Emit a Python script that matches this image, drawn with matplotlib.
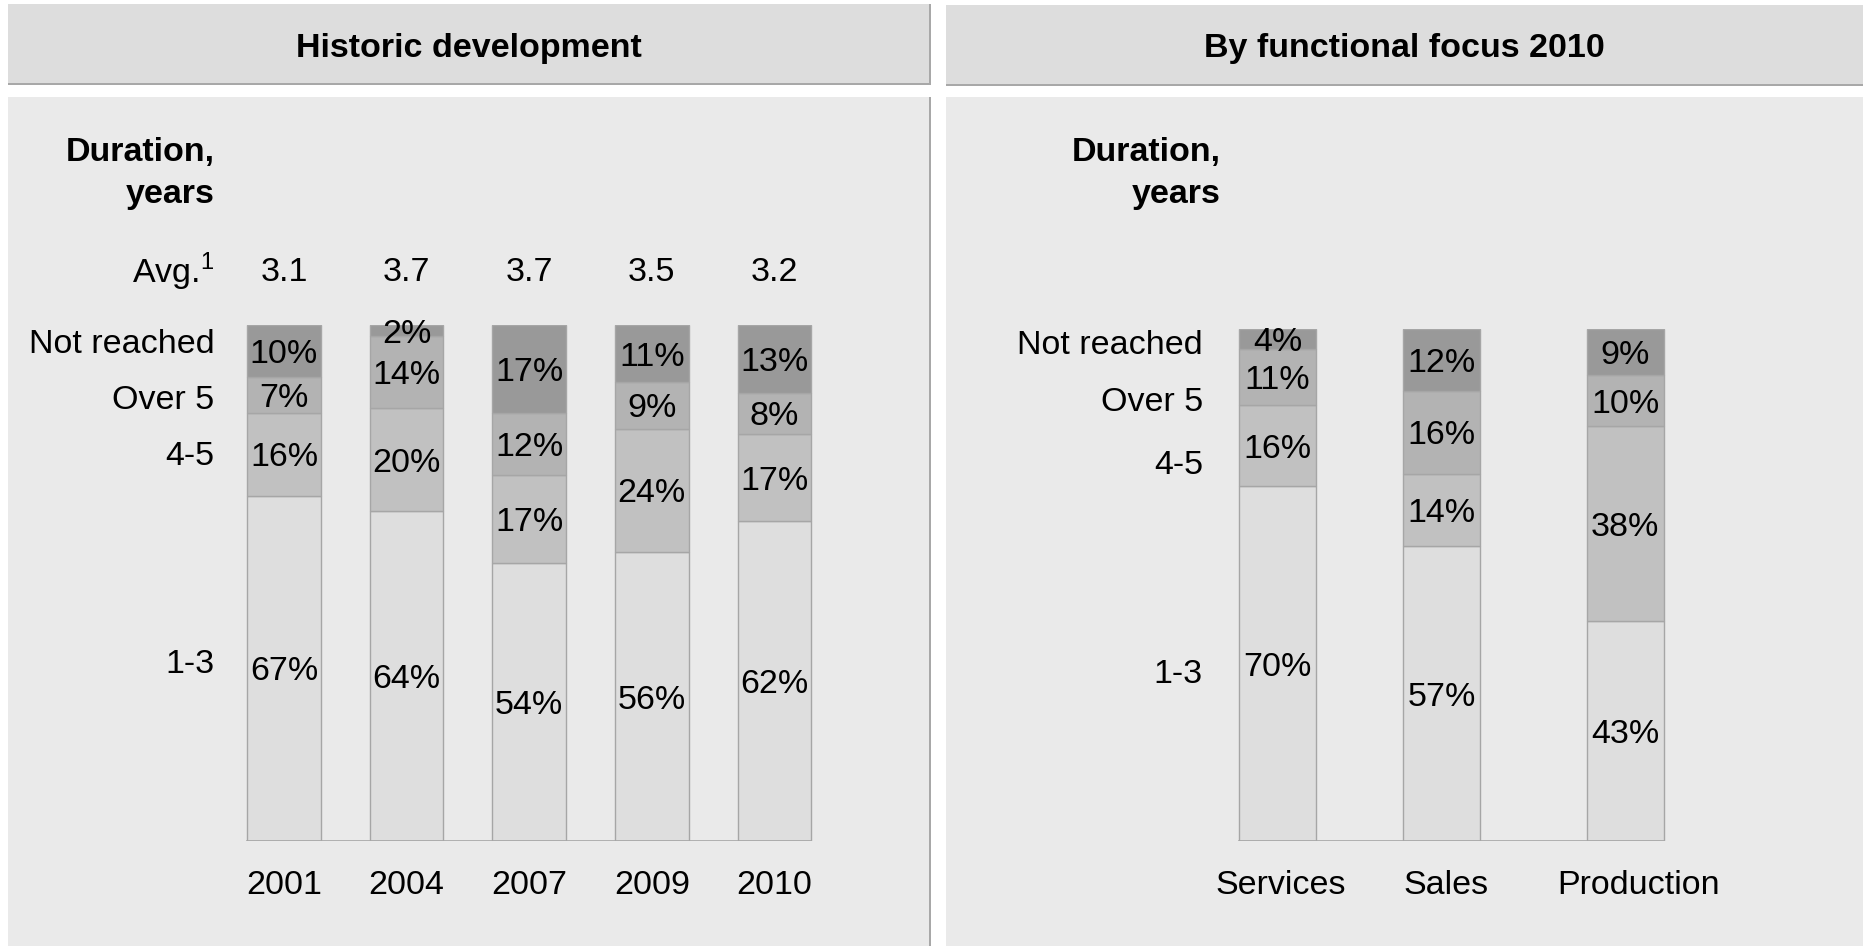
import numpy as np
import matplotlib
matplotlib.use('Agg')
import matplotlib.pyplot as plt
from matplotlib.patches import Rectangle

plt.rcParams['font.family'] = ['Liberation Sans', 'DejaVu Sans']
plt.rcParams['mathtext.fontset'] = 'custom'
plt.rcParams['mathtext.rm'] = 'Liberation Sans'

# data
years = ['2001', '2004', '2007', '2009', '2010']
avg_years = ['3.1', '3.7', '3.7', '3.5', '3.2']
hist_13 = [67, 64, 54, 56, 62]
hist_45 = [16, 20, 17, 24, 17]
hist_over5 = [7, 14, 12, 9, 8]
hist_notreached = [10, 2, 17, 11, 13]

functions = ['Services', 'Sales', 'Production']
func_13 = [70, 57, 43]
func_45 = [16, 14, 38]
func_over5 = [11, 16, 10]
func_notreached = [4, 12, 9]

row_names = ['Not reached', 'Over 5', '4-5', '1-3']
seg_colors = ['#dedede', '#c1c1c1', '#b3b3b3', '#999999']  # 1-3, 4-5, over 5, not reached
FS = 24.5
VA = 'center_baseline'

W, H = 1863, 946
fig = plt.figure(figsize=(W / 100, H / 100), dpi=100)
fig.patch.set_facecolor('white')


def px_rect(x, y_top, w, h, color):
    # rectangle in figure pixels, y measured from top
    r = Rectangle((x / W, (H - y_top - h) / H), w / W, h / H, transform=fig.transFigure,
                  facecolor=color, edgecolor='none', zorder=-10)
    fig.patches.append(r)


# panel backgrounds
px_rect(8, 4, 922, 80, '#dddddd')
px_rect(8, 83, 923, 2, '#a8a8a8')
px_rect(929, 4, 2, 80, '#a8a8a8')
px_rect(8, 97, 922, 849, '#eaeaea')
px_rect(929, 97, 2, 849, '#a8a8a8')
px_rect(946, 5, 917, 80, '#dddddd')
px_rect(946, 84, 917, 2, '#a8a8a8')
px_rect(946, 97, 917, 849, '#eaeaea')

fig.text(469 / W, 1 - 49 / H, 'Historic development', ha='center', va='center',
         fontsize=FS, fontweight='bold')
fig.text(1404 / W, 1 - 49 / H, 'By functional focus 2010', ha='center', va='center',
         fontsize=FS, fontweight='bold')


def stacked(ax, xpos, width, segs):
    segs = np.array(segs, dtype=float)
    totals = segs.sum(axis=0)
    heights = segs / totals * 100
    bottom = np.zeros(len(xpos))
    for i in range(len(segs)):
        ax.bar(xpos, heights[i], width, bottom=bottom, color=seg_colors[i],
               edgecolor='#a6a6a6', linewidth=1.0, zorder=2)
        for j, x in enumerate(xpos):
            ax.text(x, bottom[j] + heights[i][j] / 2, f'{int(segs[i][j])}%', ha='center',
                    va=VA, fontsize=FS, zorder=3)
        bottom += heights[i]
    ax.plot([xpos[0] - width / 2, xpos[-1] + width / 2], [0, 0], color='#a6a6a6',
            linewidth=1.2, zorder=3)


def setup(ax, ticks, labels):
    ax.set_ylim(0, 100)
    ax.patch.set_visible(False)
    for s in ax.spines.values():
        s.set_visible(False)
    ax.set_yticks([])
    ax.set_xticks(ticks)
    ax.set_xticklabels(labels, fontsize=FS)
    ax.tick_params(axis='x', length=0, pad=21)


# left chart
ax1 = fig.add_axes([8 / W, (H - 841) / H, 922 / W, 515.5 / H])
xl = np.arange(len(years))
ax1.set_xlim((8 - 284) / 122.6, (930 - 284) / 122.6)
stacked(ax1, xl, 0.6, [hist_13, hist_45, hist_over5, hist_notreached])
setup(ax1, xl, years)
lx = -0.565
for name, y in zip(row_names, [97.0, 86.1, 75.3, 35.0]):
    ax1.text(lx, y, name, ha='right', va=VA, fontsize=FS)
ax1.text(lx, 129.5, 'Duration,\nyears', ha='right', va='center', fontsize=FS,
         fontweight='bold', linespacing=1.45)
ax1.text(lx, 111.3, 'Avg.$^\\mathregular{1}$', ha='right', va=VA, fontsize=FS)
for x, a in zip(xl, avg_years):
    ax1.text(x, 111.0, a, ha='center', va=VA, fontsize=FS)

# right chart
ax2 = fig.add_axes([946 / W, (H - 841) / H, 917 / W, 512 / H])
xr = np.array([0, 1, 2.12])
ax2.set_xlim((946 - 1277.5) / 164, (1863 - 1277.5) / 164)
stacked(ax2, xr, 0.47, [func_13, func_45, func_over5, func_notreached])
setup(ax2, xr + np.array([0.02, 0.03, 0.08]), functions)
rx = -0.455
for name, y in zip(row_names, [97.5, 86.3, 74.0, 33.2]):
    ax2.text(rx, y, name, ha='right', va=VA, fontsize=FS)
ax2.text(-0.345, 130.3, 'Duration,\nyears', ha='right', va='center', fontsize=FS,
         fontweight='bold', linespacing=1.45)

fig.savefig('out.png', dpi=100, facecolor='white')
